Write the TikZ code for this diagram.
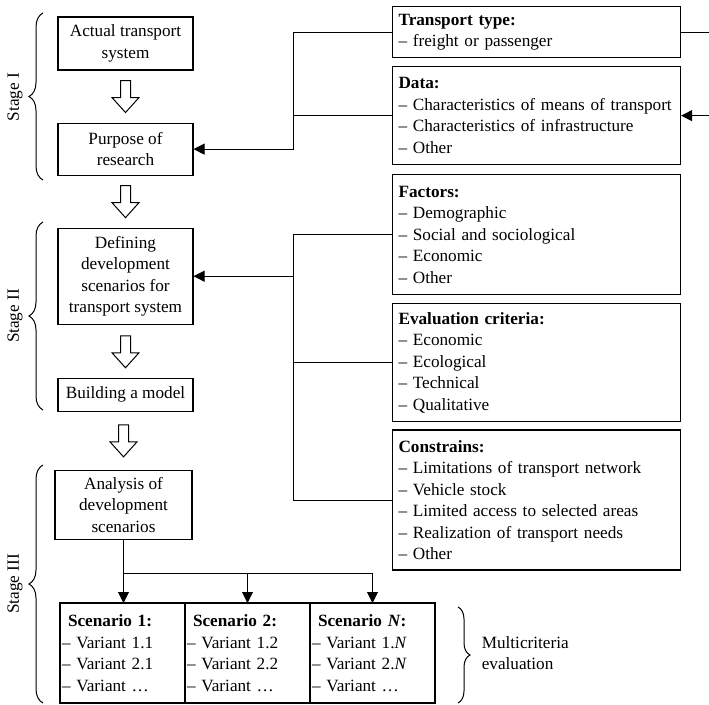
\documentclass[tikz,border=0pt]{standalone}
\usepackage{fontspec}
\setmainfont{Liberation Serif}
\usetikzlibrary{arrows.meta, positioning, decorations.pathreplacing}

\begin{document}
\begin{tikzpicture}[x=1pt, y=1pt, >={Triangle[length=11pt, width=11pt]}, line width=0.9pt,
  font=\fontsize{17.2}{21.5}\selectfont,
  stepbox/.style={draw, line width=1.1pt, rectangle, minimum width=135pt, inner sep=3pt, text centered, align=center},
  infobox/.style={draw, line width=1.1pt, rectangle, text width=276pt, inner xsep=6pt, inner ysep=3pt, align=left},
  scenbox/.style={draw, line width=1.1pt, rectangle, text width=121pt, minimum height=100pt, inner xsep=2pt, outer sep=0pt, align=left},
  hollow/.pic={\draw [line width=1pt, fill=white] (-5,0) -- (5,0) -- (5,-17) -- (13.5,-17) -- (0,-32) -- (-13.5,-17) -- (-5,-17) -- cycle;},
  stagebrace/.style={decorate, decoration={brace, amplitude=14pt}, line width=1pt},
  stagelabel/.style={rotate=90, inner sep=0pt}]

  \useasboundingbox (0,0) rectangle (709,-704);

  \node [stepbox, minimum height=53pt] (actual) at (125.5,-43.5) {Actual transport\\system};
  \node [stepbox, minimum height=52pt, below=52pt of actual] (purpose) {Purpose of\\research};
  \node [stepbox, minimum height=96pt, below=52pt of purpose] (defining) {Defining\\development\\scenarios for\\transport system};
  \node [stepbox, minimum height=33pt, below=53pt of defining] (model) {Building a model};
  \node [stepbox, minimum width=137pt, minimum height=69pt, below=58pt of model, xshift=-2pt] (analysis) {Analysis of\\development\\scenarios};

  \path (actual.south) ++(0,-10) pic {hollow};
  \path (purpose.south) ++(0,-10) pic {hollow};
  \path (defining.south) ++(0,-11) pic {hollow};
  \path (model.south) ++(-2,-13) pic {hollow};

  \node [infobox, minimum height=51pt, anchor=north west] (transport) at (392,-6) {\textbf{Transport type:}\\-- freight or passenger};
  \node [infobox, minimum height=98pt, below=8pt of transport] (data) {\textbf{Data:}\\-- Characteristics of means of transport\\-- Characteristics of infrastructure\\-- Other};
  \node [infobox, minimum height=120pt, below=9pt of data] (factors) {\textbf{Factors:}\\-- Demographic\\-- Social and sociological\\-- Economic\\-- Other};
  \node [infobox, minimum height=118pt, below=8pt of factors] (evalc) {\textbf{Evaluation criteria:}\\-- Economic\\-- Ecological\\-- Technical\\-- Qualitative};
  \node [infobox, minimum height=140pt, below=7pt of evalc] (constr) {\textbf{Constrains:}\\-- Limitations of transport network\\-- Vehicle stock\\-- Limited access to selected areas\\-- Realization of transport needs\\-- Other};

  \node [scenbox, anchor=north west] (scenA) at (60,-603) {\hspace*{6pt}\textbf{Scenario 1:}\\-- Variant 1.1\\-- Variant 2.1\\-- Variant \dots};
  \node [scenbox, right=0pt of scenA] (scenB) {\hspace*{6pt}\textbf{Scenario 2:}\\-- Variant 1.2\\-- Variant 2.2\\-- Variant \dots};
  \node [scenbox, right=0pt of scenB] (scenC) {\hspace*{6pt}\textbf{Scenario \textit{N}:}\\-- Variant 1.\textit{N}\\-- Variant 2.\textit{N}\\-- Variant \dots};
  \node [anchor=west, align=left] (multi) at (478,-653) {Multicriteria\\evaluation};

  \coordinate [left=99pt of transport.west] (spineA);
  \coordinate [left=99pt of factors.west] (spineB);
  \coordinate [right=29pt of transport.east] (outT);
  \coordinate [right=29pt of data.east] (outD);
  \coordinate [below=33pt of analysis.south] (fork);

  \draw [->] (transport.west) -- (spineA) |- (purpose.east);
  \draw (data.west) -- (data.west -| spineA);
  \draw (factors.west) -- (spineB) |- (constr.west);
  \draw (evalc.west) -- (evalc.west -| spineB);
  \draw [->] (spineB |- defining.east) -- (defining.east);
  \draw (transport.east) -- (outT);
  \draw [->] (outD) -- (data.east);
  \draw [->] (analysis.south) -- (analysis.south |- scenA.north);
  \draw [->] (fork) -| (scenC.north);
  \draw [->] (fork -| scenB.north) -- (scenB.north);

  \draw [stagebrace] (43,-180) -- (43,-13);
  \node [stagelabel] (stageI) at (15,-97) {Stage I};
  \draw [stagebrace] (43,-410) -- (43,-222);
  \node [stagelabel] (stageII) at (15,-316) {Stage II};
  \draw [stagebrace] (43,-703) -- (43,-465);
  \node [stagelabel] (stageIII) at (15,-584) {Stage III};
  \draw [stagebrace, decoration={amplitude=12pt}] (458,-607) -- (458,-703);
\end{tikzpicture}
\end{document}
